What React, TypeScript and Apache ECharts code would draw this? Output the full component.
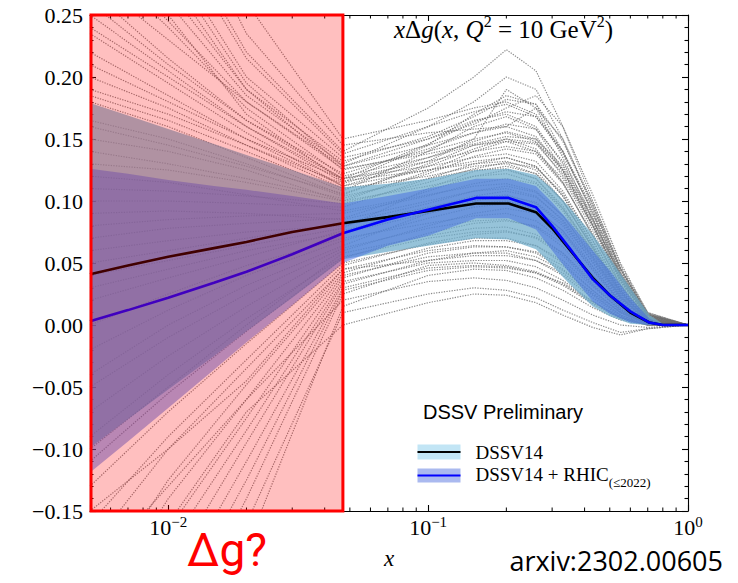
import React, { useEffect, useRef } from "react";
import * as echarts from "echarts";

// x grid shared by the two central fits and their uncertainty bands
const fitX = [0.005, 0.007, 0.01, 0.015, 0.02, 0.03, 0.047, 0.07, 0.1, 0.153, 0.204, 0.26, 0.3, 0.35, 0.43, 0.5, 0.6, 0.71, 0.8, 1.0];

// DSSV14 central curve and band
const dssv14 = [0.041, 0.048, 0.055, 0.062, 0.067, 0.075, 0.082, 0.087, 0.092, 0.098, 0.098, 0.091, 0.078, 0.061, 0.038, 0.024, 0.010, 0.002, 0, 0];
const dssv14Upper = [0.179, 0.169, 0.158, 0.146, 0.137, 0.125, 0.111, 0.114, 0.118, 0.125, 0.126, 0.121, 0.110, 0.095, 0.073, 0.054, 0.030, 0.008, 0.001, 0];
const dssv14Lower = [-0.099, -0.076, -0.052, -0.025, -0.005, 0.022, 0.053, 0.059, 0.064, 0.070, 0.069, 0.061, 0.048, 0.033, 0.015, 0.007, 0.001, 0, 0, 0];

// DSSV14 + RHIC(<=2022) central curve and band
const rhic = [0.003, 0.012, 0.022, 0.034, 0.043, 0.057, 0.074, 0.085, 0.093, 0.1025, 0.1025, 0.095, 0.080, 0.062, 0.037, 0.024, 0.011, 0.002, 0, 0];
const rhicUpper = [0.126, 0.122, 0.117, 0.112, 0.109, 0.104, 0.098, 0.104, 0.110, 0.118, 0.118, 0.112, 0.099, 0.083, 0.060, 0.044, 0.022, 0.005, 0.0005, 0];
const rhicLower = [-0.119, -0.094, -0.067, -0.036, -0.014, 0.016, 0.050, 0.064, 0.072, 0.086, 0.086, 0.077, 0.060, 0.042, 0.019, 0.009, 0.002, 0, 0, 0];

// x grid of the Monte-Carlo replicas
const replicaX = [0.005, 0.01, 0.02, 0.047, 0.1, 0.15, 0.2, 0.26, 0.33, 0.43, 0.55, 0.7, 1.0];

// DSSV14 replicas
const replicaCurves = [
  [0.42, 0.30, 0.20, 0.135, 0.150, 0.165, 0.170, 0.160, 0.130, 0.085, 0.040, 0.008, 0],
  [0.38, 0.28, 0.19, 0.125, 0.140, 0.150, 0.155, 0.148, 0.120, 0.080, 0.035, 0.006, 0],
  [0.34, 0.26, 0.185, 0.130, 0.160, 0.180, 0.200, 0.190, 0.150, 0.095, 0.045, 0.009, 0],
  [0.30, 0.24, 0.175, 0.120, 0.135, 0.145, 0.148, 0.140, 0.115, 0.072, 0.032, 0.005, 0],
  [0.46, 0.33, 0.22, 0.140, 0.175, 0.200, 0.222, 0.205, 0.160, 0.100, 0.048, 0.010, 0],
  [0.27, 0.215, 0.165, 0.118, 0.128, 0.135, 0.138, 0.132, 0.108, 0.068, 0.030, 0.005, 0],
  [0.50, 0.36, 0.235, 0.145, 0.155, 0.158, 0.160, 0.152, 0.125, 0.082, 0.038, 0.007, 0],
  [0.24, 0.20, 0.160, 0.115, 0.145, 0.170, 0.185, 0.178, 0.140, 0.090, 0.042, 0.008, 0],
  [0.22, 0.185, 0.150, 0.112, 0.125, 0.132, 0.135, 0.128, 0.104, 0.065, 0.028, 0.004, 0],
  [0.20, 0.175, 0.145, 0.110, 0.120, 0.128, 0.130, 0.122, 0.100, 0.062, 0.027, 0.004, 0],
  [0.185, 0.165, 0.140, 0.108, 0.140, 0.160, 0.168, 0.158, 0.125, 0.080, 0.036, 0.006, 0],
  [0.165, 0.150, 0.130, 0.104, 0.118, 0.125, 0.126, 0.118, 0.094, 0.058, 0.024, 0.003, 0],
  [0.15, 0.14, 0.125, 0.100, 0.112, 0.120, 0.122, 0.115, 0.092, 0.056, 0.023, 0.003, 0],
  [0.235, 0.195, 0.155, 0.112, 0.132, 0.150, 0.190, 0.175, 0.135, 0.085, 0.040, 0.007, 0],
  [0.12, 0.115, 0.105, 0.092, 0.105, 0.112, 0.114, 0.108, 0.088, 0.054, 0.022, 0.003, 0],
  [0.09, 0.092, 0.090, 0.085, 0.100, 0.108, 0.110, 0.104, 0.084, 0.050, 0.020, 0.003, 0],
  [0.06, 0.068, 0.075, 0.080, 0.095, 0.102, 0.105, 0.098, 0.080, 0.047, 0.018, 0.002, 0],
  [0.03, 0.045, 0.060, 0.074, 0.090, 0.098, 0.100, 0.094, 0.076, 0.044, 0.017, 0.002, 0],
  [0.10, 0.100, 0.098, 0.095, 0.118, 0.130, 0.135, 0.128, 0.104, 0.064, 0.028, 0.004, 0],
  [0.00, 0.025, 0.048, 0.070, 0.082, 0.088, 0.090, 0.084, 0.068, 0.040, 0.015, 0.002, 0],
  [-0.05, -0.010, 0.025, 0.062, 0.078, 0.084, 0.085, 0.079, 0.063, 0.036, 0.013, 0.001, 0],
  [-0.09, -0.040, 0.005, 0.055, 0.070, 0.075, 0.076, 0.070, 0.056, 0.032, 0.011, 0.001, 0],
  [-0.13, -0.070, -0.015, 0.050, 0.065, 0.070, 0.070, 0.064, 0.050, 0.028, 0.010, 0.001, 0],
  [-0.18, -0.100, -0.035, 0.045, 0.060, 0.064, 0.063, 0.058, 0.045, 0.025, 0.008, 0.001, 0],
  [-0.24, -0.140, -0.060, 0.040, 0.055, 0.058, 0.058, 0.052, 0.040, 0.022, 0.007, 0.000, 0],
  [-0.30, -0.180, -0.085, 0.035, 0.050, 0.052, 0.052, 0.047, 0.036, 0.019, 0.006, 0.000, 0],
  [-0.36, -0.220, -0.110, 0.030, 0.046, 0.048, 0.047, 0.042, 0.032, 0.017, 0.005, 0.000, 0],
  [-0.42, -0.260, -0.140, 0.025, 0.048, 0.050, 0.048, 0.043, 0.033, 0.018, 0.006, 0.000, 0],
  [-0.20, -0.130, -0.060, 0.020, 0.035, 0.038, 0.036, 0.030, 0.020, 0.008, 0.000, -0.002, 0],
  [-0.48, -0.30, -0.16, 0.010, 0.025, 0.030, 0.028, 0.022, 0.012, 0.002, -0.006, -0.003, 0],
  [-0.26, -0.16, -0.07, 0.000, 0.018, 0.025, 0.024, 0.018, 0.008, -0.002, -0.008, -0.003, 0],
  [-0.15, -0.10, -0.045, 0.045, 0.052, 0.058, 0.060, 0.055, 0.044, 0.026, 0.010, 0.001, 0],
  [0.55, 0.40, 0.26, 0.150, 0.165, 0.175, 0.180, 0.170, 0.140, 0.090, 0.042, 0.008, 0],
  [0.28, 0.23, 0.18, 0.128, 0.150, 0.162, 0.175, 0.185, 0.160, 0.105, 0.050, 0.010, 0],
  [0.33, 0.25, 0.17, 0.116, 0.125, 0.130, 0.132, 0.125, 0.100, 0.062, 0.026, 0.004, 0],
  [-0.55, -0.34, -0.18, 0.015, 0.040, 0.045, 0.044, 0.038, 0.028, 0.014, 0.004, 0.000, 0],
  [-0.10, -0.05, 0.000, 0.058, 0.072, 0.078, 0.079, 0.073, 0.058, 0.033, 0.012, 0.001, 0],
  [0.07, 0.078, 0.082, 0.086, 0.108, 0.120, 0.125, 0.118, 0.096, 0.059, 0.025, 0.004, 0],
  [0.18, 0.16, 0.135, 0.105, 0.130, 0.145, 0.150, 0.142, 0.115, 0.072, 0.032, 0.005, 0],
  [0.40, 0.29, 0.195, 0.128, 0.145, 0.155, 0.160, 0.175, 0.150, 0.098, 0.046, 0.009, 0],
  [0.26, 0.21, 0.165, 0.122, 0.142, 0.155, 0.162, 0.158, 0.132, 0.088, 0.041, 0.008, 0],
  [0.31, 0.245, 0.18, 0.126, 0.138, 0.146, 0.152, 0.150, 0.128, 0.086, 0.040, 0.007, 0],
  [0.19, 0.17, 0.145, 0.114, 0.135, 0.148, 0.156, 0.150, 0.124, 0.081, 0.037, 0.006, 0],
  [0.14, 0.13, 0.118, 0.102, 0.122, 0.136, 0.142, 0.138, 0.114, 0.074, 0.033, 0.005, 0],
  [0.11, 0.108, 0.104, 0.098, 0.115, 0.126, 0.131, 0.127, 0.106, 0.068, 0.030, 0.005, 0],
  [0.08, 0.085, 0.088, 0.090, 0.104, 0.114, 0.118, 0.114, 0.094, 0.060, 0.026, 0.004, 0],
  [0.05, 0.060, 0.070, 0.082, 0.098, 0.108, 0.112, 0.107, 0.088, 0.055, 0.023, 0.003, 0],
  [0.02, 0.038, 0.055, 0.076, 0.094, 0.104, 0.108, 0.103, 0.085, 0.053, 0.022, 0.003, 0],
  [-0.02, 0.012, 0.040, 0.068, 0.086, 0.095, 0.098, 0.093, 0.076, 0.047, 0.019, 0.002, 0],
  [-0.07, -0.025, 0.015, 0.060, 0.080, 0.090, 0.094, 0.090, 0.074, 0.045, 0.018, 0.002, 0],
  [-0.11, -0.055, -0.005, 0.054, 0.074, 0.082, 0.084, 0.080, 0.066, 0.040, 0.016, 0.002, 0],
  [-0.16, -0.09, -0.028, 0.048, 0.066, 0.073, 0.075, 0.071, 0.058, 0.035, 0.014, 0.001, 0],
  [-0.22, -0.125, -0.048, 0.042, 0.062, 0.068, 0.068, 0.064, 0.052, 0.031, 0.012, 0.001, 0],
  [-0.28, -0.165, -0.075, 0.038, 0.058, 0.063, 0.063, 0.059, 0.048, 0.028, 0.010, 0.001, 0],
  [-0.33, -0.20, -0.095, 0.033, 0.052, 0.056, 0.056, 0.052, 0.042, 0.024, 0.008, 0.000, 0],
  [-0.39, -0.24, -0.125, 0.028, 0.044, 0.047, 0.046, 0.042, 0.034, 0.019, 0.006, 0.000, 0],
  [0.36, 0.27, 0.19, 0.132, 0.152, 0.168, 0.182, 0.178, 0.148, 0.097, 0.046, 0.009, 0],
  [0.44, 0.32, 0.215, 0.138, 0.160, 0.172, 0.178, 0.168, 0.138, 0.092, 0.044, 0.008, 0],
  [0.21, 0.18, 0.15, 0.118, 0.146, 0.164, 0.172, 0.168, 0.140, 0.094, 0.045, 0.008, 0],
  [0.13, 0.125, 0.115, 0.100, 0.124, 0.140, 0.148, 0.146, 0.122, 0.080, 0.037, 0.006, 0],
  [0.16, 0.145, 0.128, 0.106, 0.128, 0.142, 0.150, 0.147, 0.126, 0.084, 0.039, 0.007, 0],
  [0.04, 0.052, 0.064, 0.078, 0.110, 0.124, 0.128, 0.122, 0.100, 0.063, 0.028, 0.004, 0],
  [-0.04, 0.000, 0.032, 0.064, 0.090, 0.100, 0.104, 0.099, 0.082, 0.051, 0.021, 0.003, 0],
  [0.25, 0.205, 0.16, 0.118, 0.132, 0.140, 0.144, 0.140, 0.118, 0.077, 0.035, 0.006, 0],
];

// minor ticks of the logarithmic x axis
const minorTickX = [0.006, 0.007, 0.008, 0.009, 0.02, 0.03, 0.04, 0.05, 0.06, 0.07, 0.08, 0.09, 0.2, 0.3, 0.4, 0.5, 0.6, 0.7, 0.8, 0.9];

// region of x where the gluon is unconstrained
const unconstrainedX = [0.005, 0.047];

const X_MIN = 0.005;
const X_MAX = 1;
const Y_MIN = -0.15;
const Y_MAX = 0.25;

const SERIF = "'Liberation Serif', 'DejaVu Serif', serif";
const SANS = "'Liberation Sans', Arial, sans-serif";

function bandSeries(upper: number[], lower: number[], fill: string, z: number) {
  return {
    type: "custom",
    silent: true,
    z,
    data: [[fitX[0], 0]],
    renderItem: (_params: any, api: any) => {
      const pts: number[][] = [];
      for (let i = 0; i < fitX.length; i++) pts.push(api.coord([fitX[i], upper[i]]));
      for (let i = fitX.length - 1; i >= 0; i--) pts.push(api.coord([fitX[i], lower[i]]));
      return { type: "polygon", shape: { points: pts }, style: { fill, stroke: "none" } };
    },
  };
}

function lineSeries(values: number[], color: string, z: number) {
  return {
    type: "line",
    silent: true,
    symbol: "none",
    z,
    data: fitX.map((x, i) => [x, values[i]]),
    lineStyle: { color, width: 2.6 },
  };
}

export default function App() {
  const ref = useRef<HTMLDivElement>(null);

  useEffect(() => {
    if (!ref.current) return;
    const chart = echarts.init(ref.current, undefined, { renderer: "svg" });

    const replicaSeries = replicaCurves.map((curve) => ({
      type: "line",
      silent: true,
      symbol: "none",
      z: 1,
      data: replicaX.map((x, i) => [x, curve[i]]),
      lineStyle: { color: "#6e6e6e", width: 1.2, type: [1.3, 1.3], opacity: 0.8 },
    }));

    const logLabel = (v: number) => {
      const l = Math.log10(v);
      const e = Math.round(l);
      if (Math.abs(l - e) > 1e-6) return "";
      const s = e < 0 ? "\u2212" + -e : String(e);
      return `{b|10}{p|${s}}`;
    };

    const axisLineStyle = { color: "#000", width: 1.1 };

    const option: any = {
      animation: false,
      backgroundColor: "#ffffff",
      grid: { left: 90, right: 50, top: 15, bottom: 72 },
      xAxis: [
        {
          type: "log",
          logBase: 10,
          min: X_MIN,
          max: X_MAX,
          position: "bottom",
          name: "x",
          nameLocation: "middle",
          nameGap: 36,
          nameTextStyle: { fontFamily: SERIF, fontStyle: "italic", fontSize: 23, color: "#000" },
          axisLine: { show: true, onZero: false, lineStyle: axisLineStyle },
          axisTick: { show: true, inside: true, length: 6, lineStyle: axisLineStyle },
          minorTick: { show: false },
          splitLine: { show: false },
          axisLabel: {
            formatter: logLabel,
            margin: 3,
            rich: {
              b: { fontFamily: SERIF, fontSize: 22, color: "#000", lineHeight: 24, verticalAlign: "bottom" },
              p: { fontFamily: SERIF, fontSize: 15, color: "#000", lineHeight: 24, verticalAlign: "top", padding: [0, 0, 10, 0] },
            },
          },
        },
        {
          type: "log",
          logBase: 10,
          min: X_MIN,
          max: X_MAX,
          position: "top",
          axisLine: { show: true, onZero: false, lineStyle: axisLineStyle },
          axisTick: { show: true, inside: true, length: 6, lineStyle: axisLineStyle },
          minorTick: { show: false },
          splitLine: { show: false },
          axisLabel: { show: false },
        },
      ],
      yAxis: [
        {
          type: "value",
          min: Y_MIN,
          max: Y_MAX,
          interval: 0.05,
          position: "left",
          axisLine: { show: true, onZero: false, lineStyle: axisLineStyle },
          axisTick: { show: true, inside: true, length: 6, lineStyle: axisLineStyle },
          minorTick: { show: true, splitNumber: 5, length: 3.5, lineStyle: axisLineStyle },
          splitLine: { show: false },
          axisLabel: {
            margin: 7,
            fontFamily: SERIF,
            fontSize: 22,
            color: "#000",
            formatter: (v: number) => (Math.abs(v) < 1e-9 ? "0.00" : v.toFixed(2).replace("-", "\u2212")),
          },
        },
        {
          type: "value",
          min: Y_MIN,
          max: Y_MAX,
          interval: 0.05,
          position: "right",
          axisLine: { show: true, onZero: false, lineStyle: axisLineStyle },
          axisTick: { show: true, inside: true, length: 6, lineStyle: axisLineStyle },
          minorTick: { show: true, splitNumber: 5, length: 3.5, lineStyle: axisLineStyle },
          splitLine: { show: false },
          axisLabel: { show: false },
        },
      ],
      series: [
        ...replicaSeries,
        bandSeries(dssv14Upper, dssv14Lower, "rgba(110, 172, 202, 0.72)", 3),
        bandSeries(rhicUpper, rhicLower, "rgba(65, 105, 225, 0.49)", 4),
        lineSeries(dssv14, "#000000", 5),
        lineSeries(rhic, "#0000ff", 6),
        {
          type: "custom",
          silent: true,
          z: 7,
          data: minorTickX.map((x) => [x, 0]),
          renderItem: (_params: any, api: any) => {
            const x = api.value(0);
            const b = api.coord([x, Y_MIN]);
            const t = api.coord([x, Y_MAX]);
            const st = { stroke: "#000", lineWidth: 1 };
            return {
              type: "group",
              children: [
                { type: "line", shape: { x1: b[0], y1: b[1], x2: b[0], y2: b[1] - 3.5 }, style: st },
                { type: "line", shape: { x1: t[0], y1: t[1], x2: t[0], y2: t[1] + 3.5 }, style: st },
              ],
            };
          },
        },
        {
          type: "custom",
          silent: true,
          z: 10,
          data: [[unconstrainedX[0], 0]],
          renderItem: (_params: any, api: any) => {
            const p1 = api.coord([unconstrainedX[0], Y_MAX]);
            const p2 = api.coord([unconstrainedX[1], Y_MIN]);
            return {
              type: "rect",
              shape: { x: p1[0] + 1, y: p1[1], width: p2[0] - p1[0] - 1, height: p2[1] - p1[1] },
              style: { fill: "rgba(255, 0, 0, 0.25)", stroke: "#ff0000", lineWidth: 3 },
            };
          },
        },
      ],
      graphic: [
        {
          type: "text",
          left: 394,
          top: 13,
          z: 20,
          style: {
            text: "{i|x}{n|\u0394}{i|g}{n|(}{i|x}{n|, }{i|Q}{s|2}{n| = 10 GeV}{s|2}{n|)}",
            rich: {
              n: { fontFamily: SERIF, fontSize: 25, fill: "#000", lineHeight: 29, verticalAlign: "bottom" },
              i: { fontFamily: SERIF, fontStyle: "italic", fontSize: 25, fill: "#000", lineHeight: 29, verticalAlign: "bottom" },
              s: { fontFamily: SERIF, fontSize: 16, fill: "#000", lineHeight: 29, verticalAlign: "top", padding: [0, 0, 12, 0] },
            },
          },
        },
        {
          type: "text",
          left: 423,
          top: 402,
          z: 20,
          style: { text: "DSSV Preliminary", fontFamily: SANS, fontSize: 20, fill: "#000" },
        },
        {
          type: "group",
          left: 415,
          top: 443,
          z: 20,
          children: [
            { type: "rect", shape: { x: 0, y: 0, width: 43, height: 15 }, style: { fill: "#c2e5f5" } },
            { type: "line", shape: { x1: 0, y1: 7.5, x2: 43, y2: 7.5 }, style: { stroke: "#000", lineWidth: 2 } },
            { type: "rect", shape: { x: 0, y: 24, width: 43, height: 14 }, style: { fill: "#aab9ef" } },
            { type: "line", shape: { x1: 0, y1: 31, x2: 43, y2: 31 }, style: { stroke: "#0000ff", lineWidth: 2 } },
            {
              type: "text",
              x: 58,
              y: 8,
              style: { text: "DSSV14", fontFamily: SERIF, fontSize: 19, fill: "#000", verticalAlign: "middle" },
            },
            {
              type: "text",
              x: 58,
              y: 32,
              style: {
                text: "{n|DSSV14 + RHIC}{sub|(\u22642022)}",
                verticalAlign: "middle",
                rich: {
                  n: { fontFamily: SERIF, fontSize: 19, fill: "#000", lineHeight: 24, verticalAlign: "top" },
                  sub: { fontFamily: SERIF, fontSize: 13, fill: "#000", lineHeight: 24, verticalAlign: "bottom", padding: [8, 0, 0, 0] },
                },
              },
            },
          ],
        },
        {
          type: "text",
          left: 187,
          top: 527,
          z: 20,
          style: { text: "\u0394g?", fontFamily: "Roboto, 'Open Sans', sans-serif", fontSize: 46, fill: "#ff0000" },
        },
        {
          type: "text",
          right: 15,
          top: 547,
          z: 20,
          style: { text: "arxiv:2302.00605", fontFamily: "'Open Sans', sans-serif", fontSize: 27, fill: "#000" },
        },
      ],
    };

    chart.setOption(option);
    return () => chart.dispose();
  }, []);

  return (
    <div
      ref={ref}
      style={{ position: "fixed", left: 0, top: 0, width: 738, height: 583, background: "#fff" }}
    />
  );
}
